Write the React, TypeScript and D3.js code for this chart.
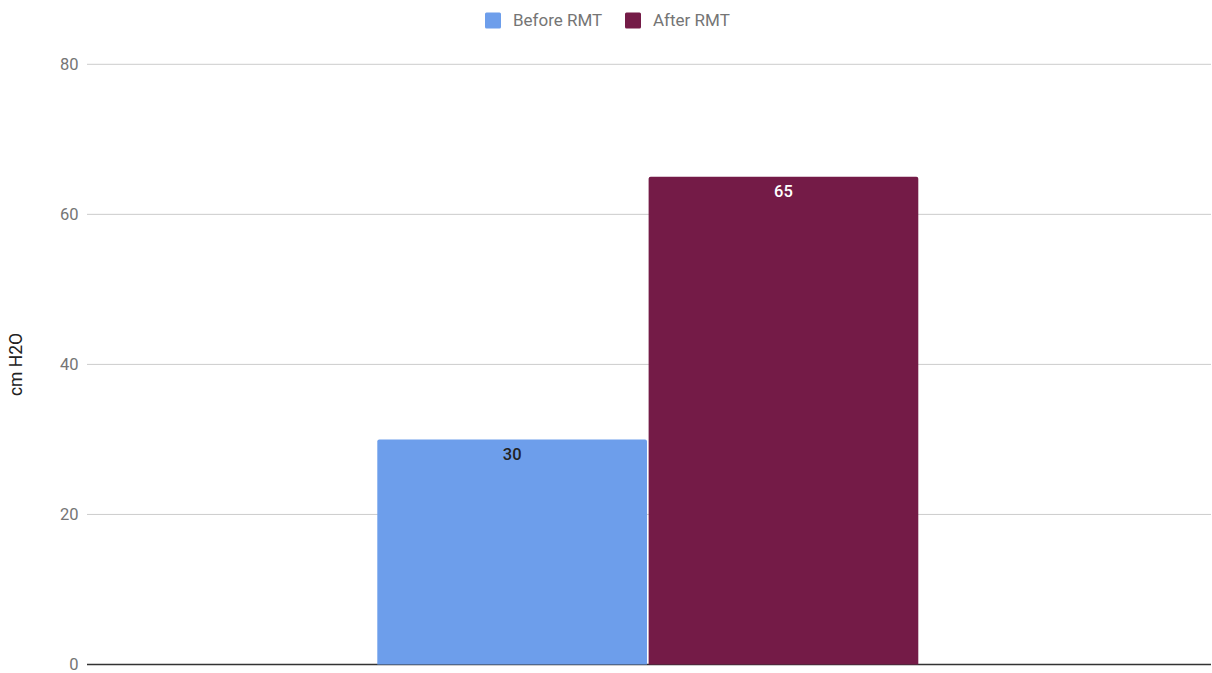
import React from "react";
import * as d3 from "d3";

const seriesNames = ["Before RMT", "After RMT"];
const seriesValues = [30, 65];
const seriesColors = ["#6d9eeb", "#741b47"];
const labelColors = ["#222222", "#ffffff"];
const yTicks = [0, 20, 40, 60, 80];
const yTitle = "cm H2O";

const W = 1212;
const H = 673;
const plotLeft = 87;
const plotRight = 1211;
const plotTop = 64.3;
const plotBottom = 664.5;
const font = "Roboto, 'Noto Sans', sans-serif";

export default function App() {
  const y = d3.scaleLinear().domain([0, 80]).range([plotBottom, plotTop]);
  const x = d3.scaleBand<string>().domain(seriesNames).range([377.3, 918.3]).paddingInner(0.006);

  return (
    <svg width={W} height={H} style={{ position: "absolute", left: 0, top: 0, background: "#fff" }}>
      {yTicks.map((t) => (
        <g key={t}>
          <line x1={plotLeft} x2={plotRight} y1={y(t)} y2={y(t)} stroke={t === 0 ? "#333" : "#cccccc"} strokeWidth={t === 0 ? 1.3 : 1} />
          <text x={78.5} y={y(t)} dy="0.35em" textAnchor="end" fontFamily={font} fontSize={16.5} fill="#757575">
            {t}
          </text>
        </g>
      ))}
      <text transform={`translate(21.5,${364.5}) rotate(-90)`} textAnchor="middle" fontFamily={font} fontSize={17.5} fill="#222">
        {yTitle}
      </text>
      {seriesNames.map((n, i) => {
        const x0 = x(n)!;
        const bw = x.bandwidth();
        const top = y(seriesValues[i]);
        const r = 2;
        const bottom = y(0);
        const d = `M${x0},${bottom}V${top + r}Q${x0},${top} ${x0 + r},${top}H${x0 + bw - r}Q${x0 + bw},${top} ${x0 + bw},${top + r}V${bottom}Z`;
        return (
          <g key={n}>
            <path d={d} fill={seriesColors[i]} />
            <text x={x0 + bw / 2} y={top + 14.5} dy="0.35em" textAnchor="middle" fontFamily={font} fontSize={16.5} fontWeight={500} fill={labelColors[i]}>
              {seriesValues[i]}
            </text>
          </g>
        );
      })}
      {seriesNames.map((n, i) => {
        const lx = [485, 625][i];
        return (
          <g key={"l" + n}>
            <rect x={lx} y={12.5} width={16} height={16} rx={1.5} fill={seriesColors[i]} />
            <text x={lx + 28} y={20.5} dy="0.35em" fontFamily={font} fontSize={17} fill="#757575">
              {n}
            </text>
          </g>
        );
      })}
    </svg>
  );
}
